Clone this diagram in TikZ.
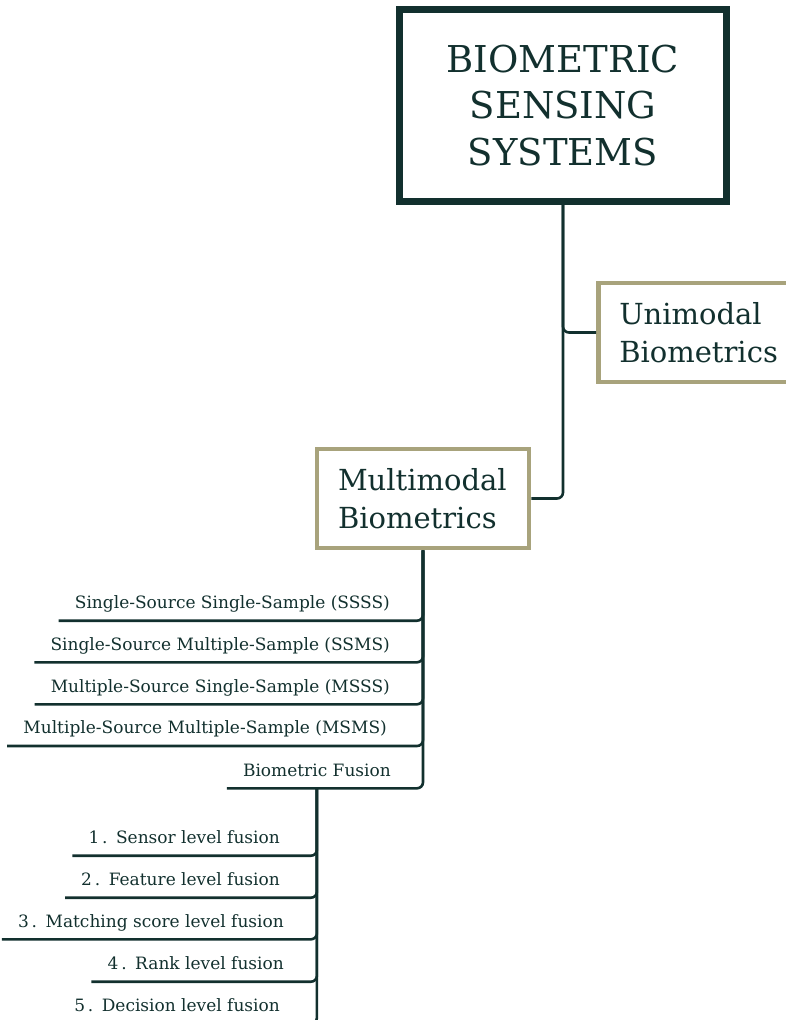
\documentclass[tikz,border=0pt]{standalone}
\usepackage{fontspec}
\setmainfont{DejaVu Serif}
\definecolor{inkteal}{RGB}{18,48,46}
\definecolor{khaki}{RGB}{168,163,124}
\tikzset{
  titlebox/.style={draw=inkteal, line width=7pt, align=center, text=inkteal,
    minimum width=327pt, minimum height=192pt, font=\fontsize{37}{46.5}\selectfont},
  branchbox/.style={draw=khaki, line width=4.5pt, align=left, text=inkteal,
    inner xsep=21pt, minimum height=99pt, font=\fontsize{29}{38}\selectfont},
  leaf/.style={anchor=south east, inner xsep=16pt, inner ysep=0pt, text=inkteal,
    text height=13pt, text depth=12pt, font=\fontsize{17}{20}\selectfont},
  link/.style={draw=inkteal, line width=2.6pt, rounded corners=6pt}
}
\begin{document}
\begin{tikzpicture}[x=1pt, y=-1pt]
	\useasboundingbox (0,0) rectangle (785,1020);
	
	% Main boxes
	\node[titlebox] (title) at (563,105.5) {BIOMETRIC\\SENSING\\SYSTEMS};
	\node[branchbox, anchor=west, text width=190pt] (uni) at (596,332.5) {Unimodal\\Biometrics};
	\node[branchbox, text width=170pt] (multi) at (423,498.5) {Multimodal\\Biometrics};
	
	% Multimodal items
	\node[leaf] (ssss) at (406,620.7) {Single-Source Single-Sample (SSSS)};
	\node[leaf] (ssms) at (406,662.3) {Single-Source Multiple-Sample (SSMS)};
	\node[leaf] (msss) at (406,704.3) {Multiple-Source Single-Sample (MSSS)};
	\node[leaf] (msms) at (403,746) {Multiple-Source Multiple-Sample (MSMS)};
	\node[leaf] (fusion) at (407,788.3) {Biometric Fusion};
	
	% Fusion levels
	\node[leaf] (f1) at (296,855.7) {1\,.\enspace Sensor level fusion};
	\node[leaf] (f2) at (296,897.7) {2\,.\enspace Feature level fusion};
	\node[leaf] (f3) at (300,939.3) {3\,.\enspace Matching score level fusion};
	\node[leaf] (f4) at (300,981.7) {4\,.\enspace Rank level fusion};
	\node[leaf] (f5) at (296,1023.7) {5\,.\enspace Decision level fusion};
	
	% Connectors
	\draw[link] (title.south) |- (uni.west);
	\draw[link] (title.south) |- (multi.east);
	\foreach \n in {ssss,ssms,msss,msms,fusion}
	\draw[link] (\n.south west) -| (multi.south);
	\foreach \n in {f1,f2,f3,f4,f5}
	\draw[link] (\n.south west) -| (fusion.south);
\end{tikzpicture}
\end{document}
